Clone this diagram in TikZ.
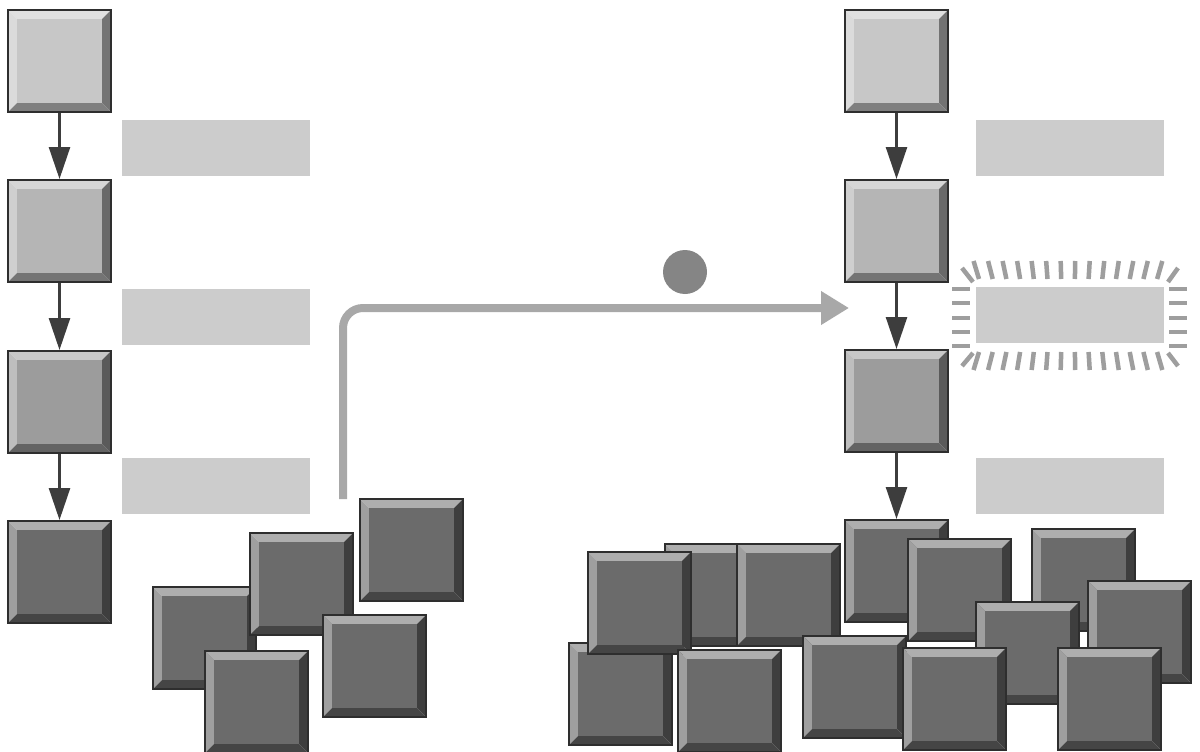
\documentclass[tikz,border=0pt]{standalone}
\usetikzlibrary{arrows.meta,calc}

\definecolor{edge}{gray}{0.18}
\definecolor{faceA}{gray}{0.78}
\definecolor{faceB}{gray}{0.71}
\definecolor{faceC}{gray}{0.61}
\definecolor{faceD}{gray}{0.42}
\definecolor{band}{gray}{0.80}
\definecolor{flow}{gray}{0.24}
\definecolor{feedcol}{gray}{0.66}
\definecolor{raycol}{gray}{0.62}
\definecolor{dotcol}{gray}{0.52}

\tikzset{
  tileframe/.style={draw=edge, line width=2pt, rectangle, inner sep=0pt,
    minimum width=103pt, minimum height=102pt},
  band/.style={fill=band, rectangle, inner sep=0pt,
    minimum width=188pt, minimum height=56pt},
  flowarrow/.style={draw=flow, line width=2.6pt,
    -{Triangle[length=32pt,width=21pt]}},
  feed/.style={draw=feedcol, line width=8pt, rounded corners=20pt,
    -{Triangle[length=28pt,width=32pt]}},
  ray/.style={draw=raycol, line width=4.5pt},
}

% bevelled square tile: #1 name, #2 left, #3 top, #4 face colour
\newcommand\bevtile[4]{%
  \begin{scope}[shift={(#2,#3)}]
    \fill[#4!55!white] (0,0) -- (103,0) -- (94,9) -- (9,9) -- cycle;
    \fill[#4!65!white] (0,0) -- (9,9) -- (9,93) -- (0,102) -- cycle;
    \fill[#4!58!black] (103,0) -- (103,102) -- (94,93) -- (94,9) -- cycle;
    \fill[#4!64!black] (0,102) -- (103,102) -- (94,93) -- (9,93) -- cycle;
    \fill[#4] (9,9) rectangle (94,93);
  \end{scope}
  \node[tileframe] (#1) at (#2+51.5,#3+51) {};
}

\begin{document}
\begin{tikzpicture}[x=1pt,y=-1pt]
  \useasboundingbox (0,0) rectangle (1200,752);
  \fill[white] (0,0) rectangle (1200,752);

  % left chain
  \bevtile{la}{8}{10}{faceA}
  \bevtile{lb}{8}{180}{faceB}
  \bevtile{lc}{8}{351}{faceC}
  \bevtile{ld}{8}{521}{faceD}
  \draw[flowarrow] (la.south) -- (la.south |- lb.north);
  \draw[flowarrow] (lb.south) -- (lb.south |- lc.north);
  \draw[flowarrow] (lc.south) -- (lc.south |- ld.north);

  \node[band] (lbandA) at (216,148) {};
  \node[band] (lbandB) at (216,317) {};
  \node[band] (lbandC) at (216,486) {};

  % left heap
  \bevtile{pa}{153}{587}{faceD}
  \bevtile{pb}{250}{533}{faceD}
  \bevtile{pc}{360}{499}{faceD}
  \bevtile{pd}{323}{615}{faceD}
  \bevtile{pe}{205}{651}{faceD}

  % feedback path
  \coordinate (feedStart) at (343,499);
  \coordinate (feedEnd) at (849,308);
  \draw[feed] (feedStart) |- (feedEnd);
  \node[circle, fill=dotcol, minimum size=44pt, inner sep=0pt] (token) at (685,272) {};

  % right chain
  \bevtile{ra}{845}{10}{faceA}
  \bevtile{rb}{845}{180}{faceB}
  \bevtile{rc}{845}{350}{faceC}

  \node[band] (rbandA) at (1070,148) {};
  \node[band] (rbandB) at (1070,315) {};
  \node[band] (rbandC) at (1070,486) {};

  % rays round the marked band
  \foreach \i in {0,...,13}{
    \pgfmathsetmacro\tx{979+13.7*\i}
    \pgfmathsetmacro\sl{(\tx-1070)*0.06}
    \draw[ray] (\tx+\sl,261) -- (\tx,279);
    \draw[ray] (\tx+\sl,370) -- (\tx,352);
  }
  \foreach \ty in {289,303,318,332,346}{
    \draw[ray] (952,\ty) -- (970,\ty);
    \draw[ray] (1169,\ty) -- (1187,\ty);
  }
  \draw[ray] (962,268) -- (973,282);
  \draw[ray] (1178,268) -- (1168,282);
  \draw[ray] (962,366) -- (973,353);
  \draw[ray] (1178,366) -- (1168,353);

  % right heap
  \bevtile{qa}{665}{544}{faceD}
  \bevtile{qd}{569}{643}{faceD}
  \bevtile{qb}{588}{552}{faceD}
  \bevtile{qc}{737}{544}{faceD}
  \bevtile{qe}{678}{650}{faceD}
  \bevtile{qf}{803}{636}{faceD}
  \bevtile{rd}{845}{520}{faceD}
  \bevtile{qh}{908}{539}{faceD}
  \bevtile{qi}{1032}{529}{faceD}
  \bevtile{qk}{976}{602}{faceD}
  \bevtile{qj}{1088}{581}{faceD}
  \bevtile{ql}{903}{648}{faceD}
  \bevtile{qm}{1058}{648}{faceD}

  \draw[flowarrow] (ra.south) -- (ra.south |- rb.north);
  \draw[flowarrow] (rb.south) -- (rb.south |- rc.north);
  \draw[flowarrow] (rc.south) -- (rc.south |- rd.north);
\end{tikzpicture}
\end{document}
